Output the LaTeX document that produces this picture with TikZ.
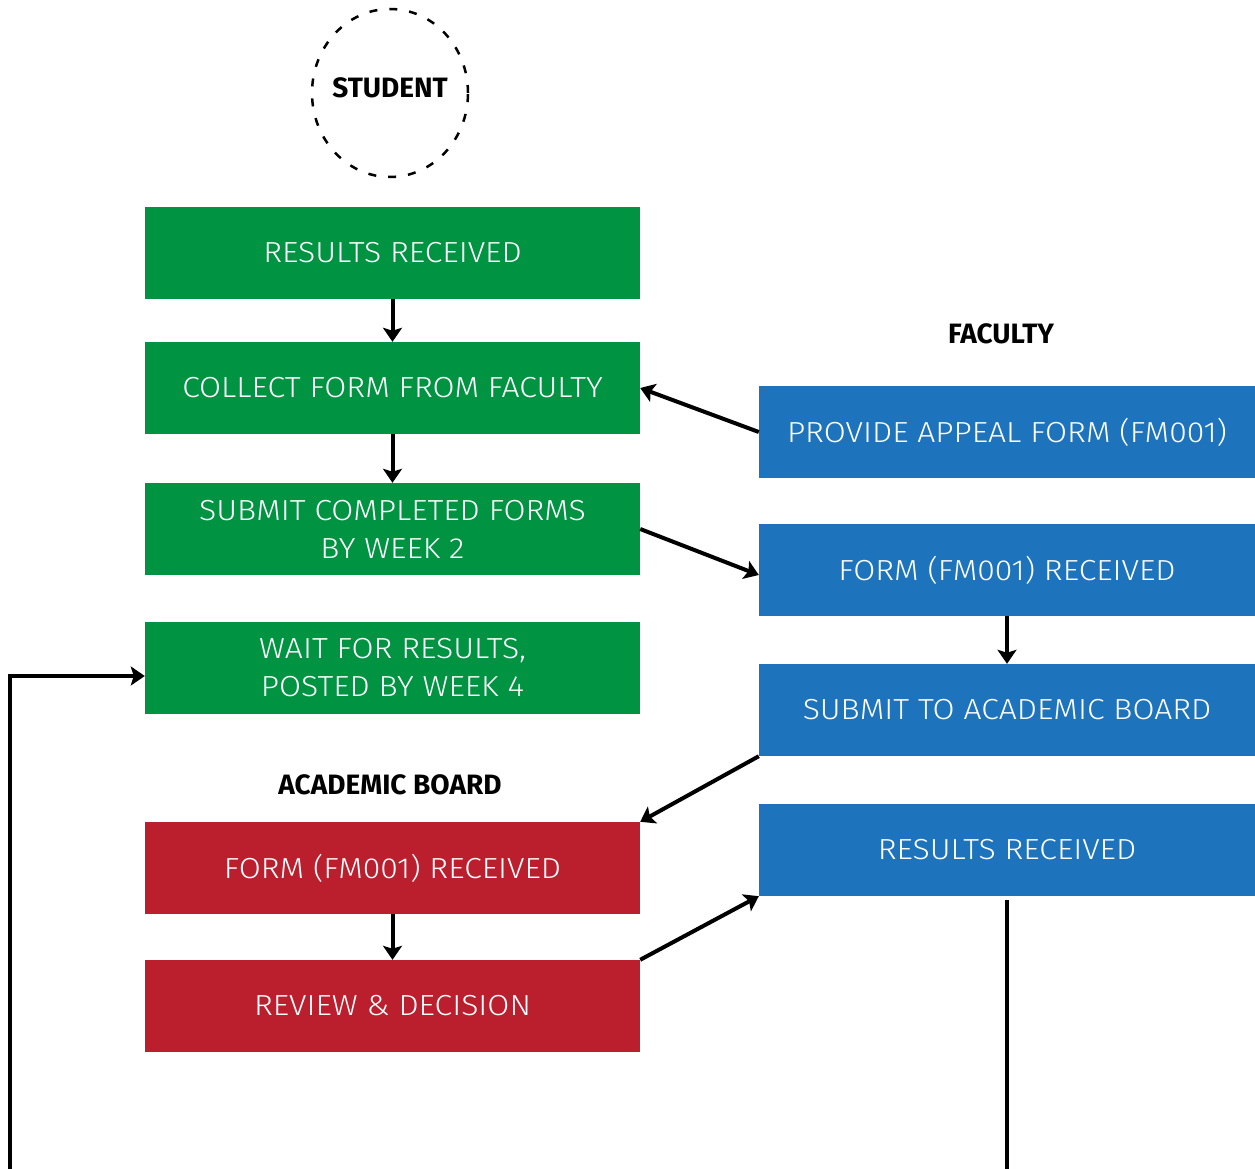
\documentclass[tikz,border=0pt]{standalone}
\usepackage{fontspec}
\setmainfont{Fira Sans}
\newfontfamily\boxfont[FakeStretch=1.1]{Fira Sans Light}
\newfontfamily\headfont{Fira Sans}
\usetikzlibrary{arrows.meta}
\definecolor{sgreen}{RGB}{0,148,66}
\definecolor{fblue}{RGB}{30,116,188}
\definecolor{bred}{RGB}{187,30,45}
\tikzset{
  stepbox/.style={rectangle, minimum width=495pt, minimum height=92pt, inner sep=0pt,
    text=white, align=center, font=\boxfont\fontsize{29}{38}\selectfont},
  greenbox/.style={stepbox, fill=sgreen},
  bluebox/.style={stepbox, fill=fblue, minimum width=496pt},
  redbox/.style={stepbox, fill=bred},
  heading/.style={font=\headfont\bfseries\fontsize{28}{30}\selectfont, text=black, inner sep=0pt},
  flow/.style={line width=4pt, -{Stealth[length=14pt,width=19pt,inset=3pt]}},
  plain/.style={line width=4pt}
}
\begin{document}
\begin{tikzpicture}[x=1pt,y=-1pt]
\useasboundingbox (0,0) rectangle (1255,1169);
\fill[white] (0,0) rectangle (1255,1169);
% student circle
\draw[line width=2.5pt, dash pattern=on 8pt off 12pt] (390,93) ellipse [x radius=78pt, y radius=84pt];
\node[heading] (student) at (390,88) {STUDENT};
\node[heading] (faculty) at (1001,334) {FACULTY};
\node[heading] (board) at (390,785) {ACADEMIC BOARD};
% student boxes
\node[greenbox] (g1) at (392.5,253) {RESULTS RECEIVED};
\node[greenbox] (g2) at (392.5,388) {COLLECT FORM FROM FACULTY};
\node[greenbox] (g3) at (392.5,529) {SUBMIT COMPLETED FORMS\\BY WEEK 2};
\node[greenbox] (g4) at (392.5,668) {WAIT FOR RESULTS,\\POSTED BY WEEK 4};
% board boxes
\node[redbox] (r1) at (392.5,868) {FORM (FM001) RECEIVED};
\node[redbox] (r2) at (392.5,1006) {REVIEW \& DECISION};
% faculty boxes
\node[bluebox] (b1) at (1007,432) {PROVIDE APPEAL FORM (FM001)};
\node[bluebox] (b2) at (1007,570) {FORM (FM001) RECEIVED};
\node[bluebox] (b3) at (1007,710) {SUBMIT TO ACADEMIC BOARD};
\node[bluebox] (b4) at (1007,850) {RESULTS RECEIVED};
% bottom free ends
\coordinate (rb) at (1007,1169);
\coordinate (lb) at (10,1169);
% connectors
\draw[flow] (g1) -- (g2);
\draw[flow] (g2) -- (g3);
\draw[flow] (b1.west) -- (g2.east);
\draw[flow] (g3.east) -- ([yshift=-5pt]b2.west);
\draw[flow] (b2) -- (b3);
\draw[flow] (b3.south west) -- (r1.north east);
\draw[flow] (r1) -- (r2);
\draw[flow] (r2.north east) -- (b4.south west);
\draw[plain] ([yshift=-4pt]b4.south) -- (rb);
\draw[flow] (lb) |- ([yshift=-8pt]g4.west);
\end{tikzpicture}
\end{document}
